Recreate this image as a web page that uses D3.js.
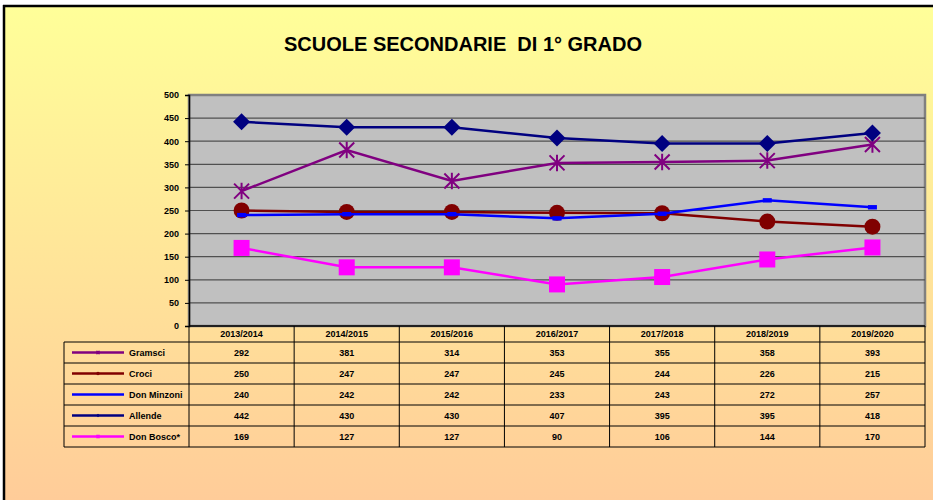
<!DOCTYPE html>
<html>
<head>
<meta charset="utf-8">
<script src="https://cdn.jsdelivr.net/npm/d3@7"></script>
<style>
  body { margin: 0; background: #fff; }
  text { font-family: "Liberation Sans", Arial, sans-serif; font-weight: bold; }
</style>
</head>
<body>
<div id="chart"></div>
<script>
// data
const years = ["2013/2014", "2014/2015", "2015/2016", "2016/2017", "2017/2018", "2018/2019", "2019/2020"];
const gramsci = [292, 381, 314, 353, 355, 358, 393];
const croci = [250, 247, 247, 245, 244, 226, 215];
const donMinzoni = [240, 242, 242, 233, 243, 272, 257];
const allende = [442, 430, 430, 407, 395, 395, 418];
const donBosco = [169, 127, 127, 90, 106, 144, 170];
const yTicks = [0, 50, 100, 150, 200, 250, 300, 350, 400, 450, 500];

const series = [
  { name: "Gramsci", values: gramsci, color: "#800080", marker: "star" },
  { name: "Croci", values: croci, color: "#800000", marker: "circle" },
  { name: "Don Minzoni", values: donMinzoni, color: "#0000FF", marker: "dash" },
  { name: "Allende", values: allende, color: "#000080", marker: "diamond" },
  { name: "Don Bosco*", values: donBosco, color: "#FF00FF", marker: "square" }
];

const width = 933, height = 500;
const plot = { left: 189, right: 925, top: 95, bottom: 326 };
const rowH = 21, headerH = 16, tableLeft = 64;

const svg = d3.select("#chart").append("svg")
  .attr("width", width)
  .attr("height", height);

// background gradient
const defs = svg.append("defs");
const grad = defs.append("linearGradient")
  .attr("id", "bg").attr("x1", 0).attr("y1", 0).attr("x2", 0).attr("y2", 1);
grad.append("stop").attr("offset", "0%").attr("stop-color", "#FFFF99");
grad.append("stop").attr("offset", "100%").attr("stop-color", "#FFCC99");

svg.append("rect").attr("x", 4).attr("y", 6).attr("width", width - 4).attr("height", height - 6)
  .attr("fill", "url(#bg)");
// black frame top and left
svg.append("line").attr("x1", 3).attr("x2", width).attr("y1", 6).attr("y2", 6)
  .attr("stroke", "#000").attr("stroke-width", 2.5);
svg.append("line").attr("x1", 4).attr("x2", 4).attr("y1", 5).attr("y2", height)
  .attr("stroke", "#000").attr("stroke-width", 2.5);

// title
svg.append("text")
  .attr("x", 463).attr("y", 51)
  .attr("text-anchor", "middle")
  .attr("textLength", 358)
  .attr("lengthAdjust", "spacingAndGlyphs")
  .style("font-size", "20px")
  .style("white-space", "pre")
  .attr("fill", "#000")
  .text("SCUOLE SECONDARIE  DI 1° GRADO");

const x = d3.scaleBand().domain(years).range([plot.left, plot.right]);
const y = d3.scaleLinear().domain([0, 500]).range([plot.bottom, plot.top]);
const cx = d => x(d) + x.bandwidth() / 2;

// plot area
svg.append("rect")
  .attr("x", plot.left).attr("y", plot.top)
  .attr("width", plot.right - plot.left).attr("height", plot.bottom - plot.top)
  .attr("fill", "#C0C0C0")
  .attr("stroke", "#808080").attr("stroke-width", 2.5);

// grid lines
svg.append("g")
  .selectAll("line")
  .data(yTicks.filter(t => t > 0 && t < 500))
  .join("line")
  .attr("x1", plot.left).attr("x2", plot.right)
  .attr("y1", d => y(d)).attr("y2", d => y(d))
  .attr("stroke", "#505050").attr("stroke-width", 1.2);

// y axis
const yAxis = svg.append("g")
  .attr("transform", `translate(${plot.left},0)`)
  .call(d3.axisLeft(y).tickValues(yTicks).tickSize(4).tickPadding(6));
yAxis.select(".domain").attr("stroke", "#000").attr("stroke-width", 1.5);
yAxis.selectAll(".tick line").attr("stroke", "#000");
yAxis.selectAll(".tick text").style("font-size", "9px").attr("fill", "#000").attr("font-family", null);

svg.append("line")
  .attr("x1", plot.left).attr("x2", plot.right)
  .attr("y1", plot.bottom).attr("y2", plot.bottom)
  .attr("stroke", "#000").attr("stroke-width", 1.5);

// markers
function drawMarker(g, type, color, px, py, s) {
  if (type === "circle") {
    g.append("circle").attr("cx", px).attr("cy", py).attr("r", 8 * s).attr("fill", color);
  } else if (type === "square") {
    g.append("rect").attr("x", px - 8 * s).attr("y", py - 8 * s)
      .attr("width", 16 * s).attr("height", 16 * s).attr("fill", color);
  } else if (type === "diamond") {
    const r = 8.5 * s;
    g.append("path").attr("d", `M${px},${py - r}L${px + r},${py}L${px},${py + r}L${px - r},${py}Z`)
      .attr("fill", color);
  } else if (type === "dash") {
    g.append("rect").attr("x", px - 4.5 * s).attr("y", py - 2.2 * s)
      .attr("width", 9 * s).attr("height", 4.4 * s).attr("fill", color);
  } else if (type === "star") {
    const r = 7.5 * s;
    const p = `M${px - r},${py - r}L${px + r},${py + r}M${px - r},${py + r}L${px + r},${py - r}M${px},${py - r * 1.1}L${px},${py + r * 1.1}`;
    g.append("path").attr("d", p).attr("stroke", color).attr("stroke-width", 2 * Math.max(s, 0.6)).attr("fill", "none");
  }
}

const line = d3.line().x((d, i) => cx(years[i])).y(d => y(d));
const lines = svg.append("g");
series.forEach(s => {
  lines.append("path")
    .attr("d", line(s.values))
    .attr("fill", "none")
    .attr("stroke", s.color)
    .attr("stroke-width", 2.5);
  const mg = lines.append("g");
  s.values.forEach((v, i) => drawMarker(mg, s.marker, s.color, cx(years[i]), y(v), 1));
});

// data table
const table = svg.append("g");
const tableTop = plot.bottom;
const rowsTop = tableTop + headerH;
const tableBottom = rowsTop + rowH * series.length;

table.selectAll("text.hdr")
  .data(years)
  .join("text")
  .attr("class", "hdr")
  .attr("x", d => cx(d))
  .attr("y", tableTop + 11)
  .attr("text-anchor", "middle")
  .style("font-size", "9px")
  .text(d => d);

// vertical lines
const vx = years.map(d => x(d)).concat([plot.right]);
table.selectAll("line.v")
  .data(vx)
  .join("line")
  .attr("class", "v")
  .attr("x1", d => d).attr("x2", d => d)
  .attr("y1", tableTop).attr("y2", tableBottom)
  .attr("stroke", "#000").attr("stroke-width", 1);
table.append("line")
  .attr("x1", tableLeft).attr("x2", tableLeft)
  .attr("y1", rowsTop).attr("y2", tableBottom)
  .attr("stroke", "#000");

// horizontal lines
table.selectAll("line.h")
  .data(d3.range(series.length + 1))
  .join("line")
  .attr("class", "h")
  .attr("x1", tableLeft).attr("x2", plot.right)
  .attr("y1", i => rowsTop + i * rowH).attr("y2", i => rowsTop + i * rowH)
  .attr("stroke", "#000").attr("stroke-width", 1);

series.forEach((s, r) => {
  const ry = rowsTop + r * rowH + rowH / 2;
  table.append("line")
    .attr("x1", 72).attr("x2", 124).attr("y1", ry).attr("y2", ry)
    .attr("stroke", s.color).attr("stroke-width", 2.5);
  drawMarker(table, s.marker, s.color, 98, ry, 0.22);
  table.append("text")
    .attr("x", 129).attr("y", ry + 3)
    .style("font-size", "9px")
    .text(s.name);
  table.selectAll(null)
    .data(s.values)
    .join("text")
    .attr("x", (d, i) => cx(years[i]))
    .attr("y", ry + 3.5)
    .attr("text-anchor", "middle")
    .style("font-size", "9px")
    .text(d => d);
});
</script>
</body>
</html>
